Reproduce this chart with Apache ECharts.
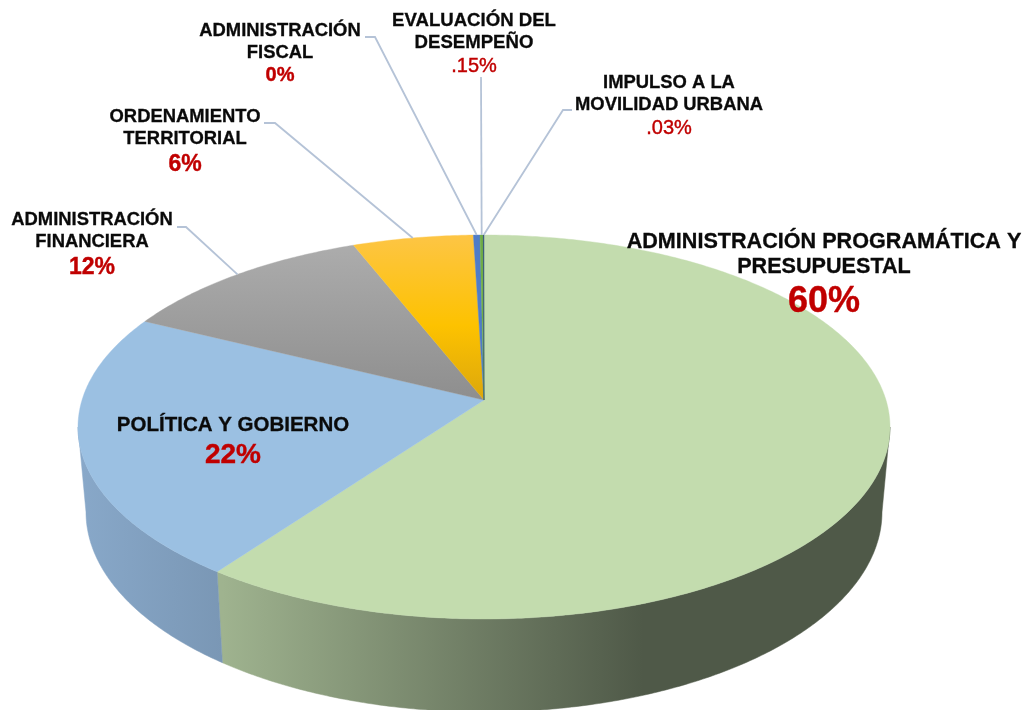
<!DOCTYPE html>
<html>
<head>
<meta charset="utf-8">
<title>Pie</title>
<script src="https://cdn.jsdelivr.net/npm/echarts@6/dist/echarts.min.js"></script>
<style>
  html, body { margin: 0; padding: 0; background: #fff; }
  #chart { width: 1029px; height: 710px; }
</style>
</head>
<body>
<div id="chart"></div>
<script>
// slices, clockwise from the top
const names = [
  'ADMINISTRACIÓN PROGRAMÁTICA Y\nPRESUPUESTAL',
  'POLÍTICA Y GOBIERNO',
  'ADMINISTRACIÓN\nFINANCIERA',
  'ORDENAMIENTO\nTERRITORIAL',
  'ADMINISTRACIÓN\nFISCAL',
  'EVALUACIÓN DEL\nDESEMPEÑO',
  'IMPULSO A LA\nMOVILIDAD URBANA'
]
const percentLabels = ['60%', '22%', '12%', '6%', '0%', '.15%', '.03%']
// drawn share of each slice
const values = [60, 22.3, 11.7, 5.5, 0.3, 0.15, 0.03]

const total = values.reduce((a, b) => a + b, 0)

// pie geometry in pixels
const TOP = { cx: 484, cy: 427, rx: 406, ry: 192 }
const BOTTOM = { cx: 484, cy: 512, rx: 398, ry: 200 }
const TILT = 27 / 192 // the apex sits above the ellipse centre (perspective)

const globalGrad = (x, y, x2, y2, stops) =>
  new echarts.graphic.LinearGradient(x, y, x2, y2, stops, true)

const faceFills = [
  '#c3dcae',
  '#9bc0e2',
  globalGrad(0, 240, 0, 400, [
    { offset: 0, color: '#adadad' },
    { offset: 1, color: '#8e8e8e' }
  ]),
  globalGrad(0, 235, 0, 400, [
    { offset: 0, color: '#fdc545' },
    { offset: 0.55, color: '#fdc200' },
    { offset: 1, color: '#dca70c' }
  ]),
  '#4f7cc8',
  '#70ad47',
  '#264478'
]
const wallFills = [
  globalGrad(222, 0, 890, 0, [
    { offset: 0, color: '#9fb38f' },
    { offset: 0.63, color: '#4f5948' },
    { offset: 1, color: '#4f5948' }
  ]),
  globalGrad(80, 0, 222, 0, [
    { offset: 0, color: '#88a8c9' },
    { offset: 1, color: '#7a97b5' }
  ])
]

// label placement: centre x, one y per line, percent size and weight
const labelLayout = [
  { x: 824, ys: [242, 267, 302], size: 21.6, pct: 36, weight: 'bold' },
  { x: 233, ys: [425, 455], size: 20.5, pct: 28, weight: 'bold' },
  { x: 92, ys: [220, 242, 268], size: 18.4, pct: 23, weight: 'bold' },
  { x: 185, ys: [117, 139, 165], size: 18.4, pct: 23, weight: 'bold' },
  { x: 280, ys: [31, 53, 75], size: 18.4, pct: 20, weight: 'bold' },
  { x: 474, ys: [21, 43, 66], size: 18.6, pct: 20, weight: 'normal' },
  { x: 669, ys: [83, 105, 128], size: 18.4, pct: 20, weight: 'normal' }
]
// leader lines: fixed points near the label, the last point comes from the slice
const leaderLayout = {
  2: [[177, 227], [186, 227]],
  3: [[264, 123], [275, 123]],
  4: [[365, 37], [375, 37]],
  5: [[481, 77]],
  6: [[572, 110], [563, 110]]
}

// fraction of the circle -> angle on the drawn ellipse, clockwise from the top
function toEllipseAngle(frac) {
  const t = frac * Math.PI * 2
  const c = (Math.cos(t) + TILT) / (1 + TILT * Math.cos(t))
  const a = Math.acos(Math.max(-1, Math.min(1, c)))
  return t > Math.PI ? Math.PI * 2 - a : a
}
function onEllipse(e, a) {
  return [e.cx + e.rx * Math.sin(a), e.cy - e.ry * Math.cos(a)]
}
function arc(e, a0, a1) {
  const pts = []
  const n = Math.max(2, Math.ceil(Math.abs(a1 - a0) / 0.01))
  for (let i = 0; i <= n; i++) pts.push(onEllipse(e, a0 + ((a1 - a0) * i) / n))
  return pts
}

const apex = [TOP.cx, TOP.cy - TILT * TOP.ry]
const starts = []
values.reduce((sum, v, i) => {
  starts[i] = sum / total
  return sum + v
}, 0)

function renderSlice(params, api) {
  const i = params.dataIndex
  const frac0 = starts[i]
  const frac1 = frac0 + api.value(0) / total
  const a0 = toEllipseAngle(frac0)
  const a1 = toEllipseAngle(frac1)
  const children = []

  // side wall, only the front half is visible
  const w0 = Math.max(a0, Math.PI / 2)
  const w1 = Math.min(a1, (Math.PI * 3) / 2)
  if (w1 > w0) {
    const wallPts = arc(TOP, w0, w1).concat(arc(BOTTOM, w1, w0))
    children.push({
      type: 'polygon',
      z2: 1,
      shape: { points: wallPts },
      style: { fill: wallFills[i], stroke: wallFills[i], lineWidth: 0.5 }
    })
  }
  // top face
  children.push({
    type: 'polygon',
    z2: 2,
    shape: { points: [apex].concat(arc(TOP, a0, a1)) },
    style: { fill: faceFills[i], stroke: faceFills[i], lineWidth: 0.4 }
  })
  // leader line
  if (leaderLayout[i]) {
    const end = onEllipse(TOP, toEllipseAngle((frac0 + frac1) / 2))
    children.push({
      type: 'polyline',
      z2: 3,
      shape: { points: leaderLayout[i].concat([end]) },
      style: { fill: 'none', stroke: '#b5c3d7', lineWidth: 1.8 }
    })
  }
  // text, a thin stroke makes it as heavy as in the reference
  const lay = labelLayout[i]
  const lines = names[i].split('\n')
  lines.forEach((line, k) => {
    children.push({
      type: 'text',
      z2: 5,
      style: {
        x: lay.x,
        y: lay.ys[k],
        text: line,
        fill: '#0a0a0a',
        stroke: '#0a0a0a',
        lineWidth: 0.3,
        font: 'bold ' + lay.size + 'px "Liberation Sans", Arial, sans-serif',
        align: 'center',
        verticalAlign: 'middle'
      }
    })
  })
  children.push({
    type: 'text',
    z2: 5,
    style: {
      x: lay.x,
      y: lay.ys[lines.length],
      text: percentLabels[i],
      fill: '#c00000',
      stroke: '#c00000',
      lineWidth: 0.4,
      font: lay.weight + ' ' + lay.pct + 'px "Liberation Sans", Arial, sans-serif',
      align: 'center',
      verticalAlign: 'middle'
    }
  })
  return { type: 'group', children }
}

const myChart = echarts.init(document.getElementById('chart'))
myChart.setOption({
  backgroundColor: '#fff',
  animation: false,
  series: [
    {
      type: 'custom',
      coordinateSystem: 'none',
      renderItem: renderSlice,
      data: values.map((v) => [v])
    }
  ]
})
</script>
</body>
</html>
